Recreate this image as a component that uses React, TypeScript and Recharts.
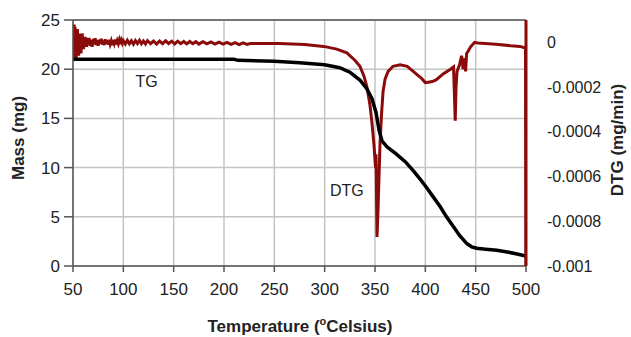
import React from "react";
import {
  LineChart,
  Line,
  XAxis,
  YAxis,
  CartesianGrid,
  ReferenceLine,
  ReferenceDot,
  Label,
} from "recharts";

// TG curve (mass, mg)
const tgTemp = [
  50, 100, 150, 210, 214, 250, 275, 300, 315, 325, 335, 342, 347, 351, 354,
  357, 362, 371, 380, 388, 395, 401, 408, 415, 421, 428, 434, 441, 446, 451,
  460, 471, 480, 490, 500,
];
const tgMass = [
  21.0, 21.0, 21.0, 21.0, 20.9, 20.8, 20.65, 20.45, 20.15, 19.7, 18.9, 18.0,
  17.0, 15.6, 13.8, 12.7, 12.1, 11.4, 10.6, 9.7, 8.8, 8.0, 7.0, 6.0, 5.0, 4.0,
  3.1, 2.3, 1.95, 1.8, 1.7, 1.6, 1.45, 1.25, 1.0,
];

// DTG curve (mg/min): noisy start, then the decomposition peaks
const dtgTemp = [
  50, 50.4, 50.8, 51.2, 51.6, 52, 52.4, 52.8, 53.2, 53.6, 54, 54.4, 54.8,
  55.2, 55.6, 56, 56.4, 56.8, 57.2, 57.6, 58, 58.4, 58.8, 59.2, 59.6, 60,
  60.5, 61, 61.5, 62, 62.5, 63, 63.5, 64, 65, 66, 67, 68, 69, 70, 71, 72, 73,
  74, 75, 76, 77, 78, 79, 80, 81, 82, 83, 84, 85, 86, 87, 88, 89, 90, 91, 92,
  93, 94, 95, 96, 97, 98, 99, 100, 102, 104, 106, 108, 110, 112, 114, 116,
  118, 120, 122, 124, 127, 130, 133, 136, 139, 142, 145, 148, 151, 154, 157,
  160, 163, 166, 169, 172, 175, 179, 183, 187, 191, 195, 199, 203, 207, 211,
  215, 219, 223, 226, 255, 280, 299, 312, 322, 330, 335, 339, 342, 345, 347,
  349, 350.5, 351, 352, 353, 354, 355, 356.5, 358, 360, 363, 368, 375, 382,
  388, 392, 396, 400, 403, 407, 411, 418, 425, 428, 429, 429.7, 430.5, 431.5,
  434, 436, 437.5, 439, 440, 441, 442.5, 445, 449, 452, 470, 485, 494, 499.5,
  500,
];
const dtgRate = [
  0.00001, 0.00007, -0.00007, 0.00008, -0.00006, 0.00007, -0.00006, 0.00006,
  -0.00007, 0.00005, -0.00005, 0.00006, -0.00004, 0.00004, -0.00006,
  0.00003, -0.00005, 0.00004, -0.00003, 0.00003, -0.00005, 0.00002,
  -0.00003, 0.00004, -0.00002, 0.00002, -0.00003, 0.00002, -0.00002,
  0.000025, -0.000015, 0.00002, -0.00002, 0.000015, -0.00001, 0.00002,
  -0.000015, 0.00001, -0.00002, 0.000015, -0.000008, 0.000018, -0.000012,
  0.00001, -0.000015, 0.000012, -0.000006, 0.000016, -0.00001, 0.000008,
  -0.000012, 0.000014, -0.000006, 0.00001, -0.00001, 0.000012, -0.000008,
  0.000006, -0.000012, 0.00001, -0.000005, 0.000012, -0.000009, 0.000007,
  -0.000006, 0.00001, -0.000008, 0.000009, -0.000004, 0.000008, -0.000007,
  0.000009, -0.000006, 0.000007, -0.000008, 0.000008, -0.000005, 0.000009,
  -0.000006, 0.000006, -0.000007, 0.000008, -0.000006, 0.000006, -0.000008,
  0.000006, -0.000006, 0.000007, -0.000005, 0.000005, -0.000007, 0.000005,
  -0.000006, 0.000004, -0.000007, 0.000004, -0.000006, 0.000003, -0.000008,
  0.000003, -0.000007, 0.000002, -0.000008, 0.000001, -0.000008, 0,
  -0.000009, -0.000001, -0.00001, -0.000002, -0.000009, -0.000005,
  -0.000005, -0.00001, -0.000018, -0.00003, -0.000047, -0.00008, -0.000107,
  -0.00015, -0.0002, -0.00028, -0.00036, -0.00046, -0.00056, -0.0005,
  -0.00087, -0.00075, -0.0006, -0.00045, -0.00032, -0.00022, -0.000165,
  -0.00013, -0.000107, -0.0001, -0.000107, -0.00013, -0.000145, -0.00016,
  -0.00018, -0.000178, -0.000175, -0.000167, -0.00014, -0.00012, -0.00011,
  -0.00025, -0.00035, -0.0002, -0.00013, -0.0001, -0.00006, -0.00012,
  -0.00007, -0.00013, -0.00005, -0.00004, -0.00002, 0, -0.000003, -0.000008,
  -0.000015, -0.000018, -0.000025, -0.001,
];

const xTicks = [50, 100, 150, 200, 250, 300, 350, 400, 450, 500];
const massTicks = [0, 5, 10, 15, 20, 25];
const dtgTicks = [0, -0.0002, -0.0004, -0.0006, -0.0008, -0.001];

const tgData = tgTemp.map((t, i) => ({ temp: t, mass: tgMass[i] }));
const dtgData = dtgTemp.map((t, i) => ({ temp: t, dtg: dtgRate[i] }));

const FONT = "'Liberation Sans', Arial, sans-serif";
const TEXT = "#222";
const RED = "#8B0A0A";

const App = () => {
  return (
    <div
      style={{
        position: "absolute",
        left: 0,
        top: 0,
        width: 631,
        height: 337,
        background: "#fff",
        fontFamily: FONT,
      }}
    >
      <LineChart
        width={631}
        height={337}
        margin={{ top: 20, right: 20, left: 0, bottom: 0 }}
      >
        <CartesianGrid yAxisId="left" stroke="#c4c4c4" strokeWidth={1.5} />
        <XAxis
          dataKey="temp"
          type="number"
          domain={[50, 500]}
          ticks={xTicks}
          allowDataOverflow
          height={71}
          stroke="#555"
          strokeWidth={1.5}
          tickSize={6}
          tickMargin={11}
          tick={{ fontSize: 17, fill: TEXT, fontFamily: FONT }}
        >
          <Label
            content={() => (
              <text
                x={300}
                y={332}
                textAnchor="middle"
                fontSize={17}
                fontWeight="bold"
                fill={TEXT}
                fontFamily={FONT}
              >
                Temperature (
                <tspan fontSize={11} dy={-7}>
                  o
                </tspan>
                <tspan dy={7}>Celsius)</tspan>
              </text>
            )}
          />
        </XAxis>
        <YAxis
          yAxisId="left"
          type="number"
          domain={[0, 25]}
          ticks={massTicks}
          allowDataOverflow
          width={73}
          stroke="#555"
          strokeWidth={1.5}
          tickSize={9}
          tickMargin={4}
          tick={{ fontSize: 17, fill: TEXT, fontFamily: FONT }}
        >
          <Label
            content={() => (
              <text
                x={24}
                y={138}
                textAnchor="middle"
                transform="rotate(-90 24 138)"
                fontSize={17}
                fontWeight="bold"
                fill={TEXT}
                fontFamily={FONT}
              >
                Mass (mg)
              </text>
            )}
          />
        </YAxis>
        <YAxis
          yAxisId="right"
          orientation="right"
          type="number"
          domain={[-0.001, 0.0001]}
          ticks={dtgTicks}
          allowDataOverflow
          width={85}
          stroke={RED}
          strokeWidth={3}
          tickLine={false}
          tickMargin={15}
          tick={{ fontSize: 16, fill: TEXT, fontFamily: FONT }}
        >
          <Label
            content={() => (
              <text
                x={623}
                y={140}
                textAnchor="middle"
                transform="rotate(-90 623 140)"
                fontSize={17}
                fontWeight="bold"
                fill={TEXT}
                fontFamily={FONT}
              >
                DTG (mg/min)
              </text>
            )}
          />
        </YAxis>
        <ReferenceLine
          yAxisId="left"
          y={25}
          stroke="#555"
          strokeWidth={1.5}
        />
        <Line
          yAxisId="right"
          data={dtgData}
          dataKey="dtg"
          type="linear"
          stroke={RED}
          strokeWidth={3}
          dot={false}
          isAnimationActive={false}
        />
        <Line
          yAxisId="left"
          data={tgData}
          dataKey="mass"
          type="linear"
          stroke="#000"
          strokeWidth={3.5}
          dot={false}
          isAnimationActive={false}
        />
        <ReferenceDot
          yAxisId="left"
          x={123}
          y={18.75}
          r={0}
          label={{
            value: "TG",
            position: "center",
            fontSize: 16,
            fill: TEXT,
            fontFamily: FONT,
          }}
        />
        <ReferenceDot
          yAxisId="left"
          x={322}
          y={7.7}
          r={0}
          label={{
            value: "DTG",
            position: "center",
            fontSize: 16,
            fill: TEXT,
            fontFamily: FONT,
          }}
        />
      </LineChart>
    </div>
  );
};

export default App;
